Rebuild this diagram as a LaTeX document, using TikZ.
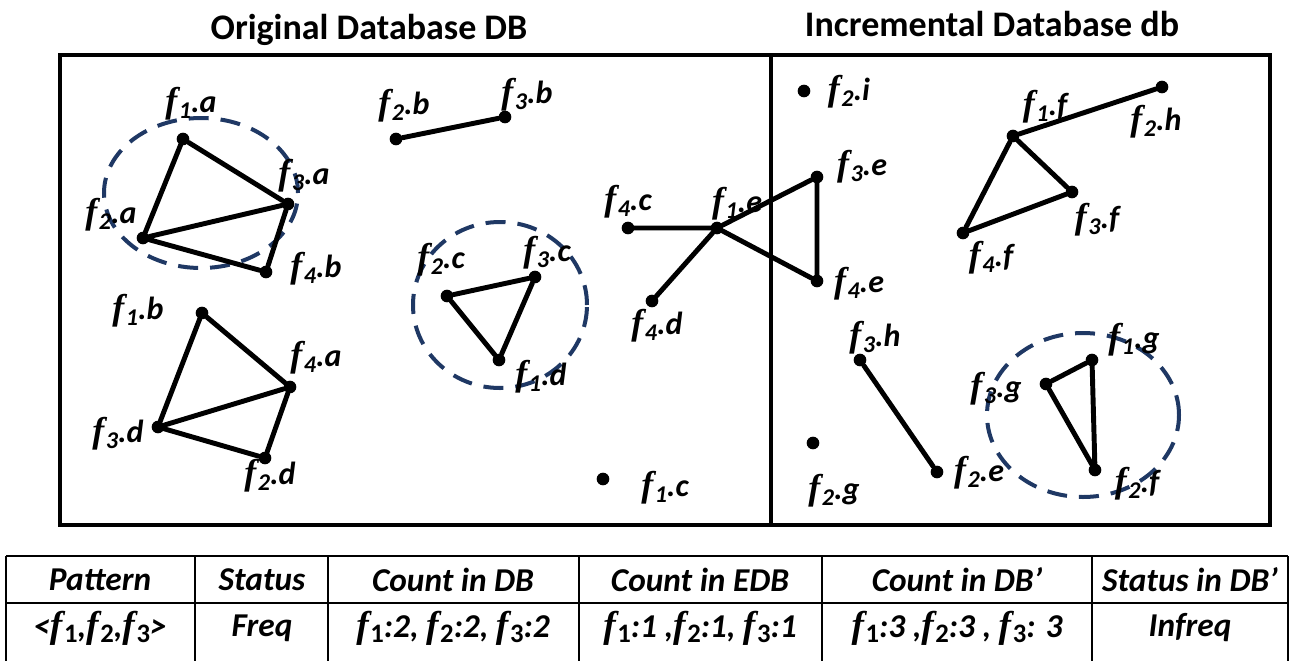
\documentclass[tikz,border=0pt]{standalone}
\usepackage{fontspec}
\setmainfont{Carlito}
\newfontfamily\ffam{Liberation Serif}
\usetikzlibrary{shapes.geometric}
\definecolor{navy}{HTML}{1F3864}
\newcommand\ff{\scalebox{1.12}{\ffam\bfseries\itshape f}}
\newcommand\lb[2]{\ff\kern0.05em\raisebox{-0.35ex}{\fontsize{18}{18}\selectfont #1}.#2}
\newcommand\tf[1]{\ff\kern0.05em\raisebox{-0.35ex}{\fontsize{20}{20}\selectfont\upshape #1}}
\begin{document}
\begin{tikzpicture}[x=0.75pt,y=-0.75pt,
  v/.style={circle,fill=black,inner sep=0pt,minimum size=9.5pt},
  ed/.style={line width=3.7pt,line cap=round},
  grp/.style={draw=navy,ellipse,line width=3pt,dash pattern=on 15pt off 9pt,inner sep=0pt},
  lbl/.style={font=\fontsize{24}{24}\selectfont\bfseries\itshape,inner sep=0pt},
  ttl/.style={font=\fontsize{27}{27}\selectfont\bfseries,inner sep=0pt},
  th/.style={font=\fontsize{25}{25}\selectfont\bfseries\itshape,inner sep=0pt},
  frame/.style={line width=3pt},
  tline/.style={line width=1.3pt}]
\useasboundingbox (0,0) rectangle (1297,661);
% titles
\node[ttl] (t1) at (369,30) {Original Database DB};
\node[ttl] (t2) at (992,24) {Incremental Database db};
% frame
\draw[frame] (60,55) rectangle (1270,525);
\coordinate (dtop) at (771,55);
\coordinate (dbot) at (771,525);
\draw[frame] (dtop) -- (dbot);
% groups
\node[grp,minimum width=145.5pt,minimum height=112.5pt] (g1) at (201,193) {};
\node[grp,minimum width=130.5pt,minimum height=124.5pt] (g2) at (500,305) {};
\node[grp,minimum width=144pt,minimum height=123pt] (g3) at (1083,415) {};
% vertices left
\node[v] (f1a) at (183,139) {};
\node[v] (f2a) at (143,238) {};
\node[v] (f3a) at (288,204) {};
\node[v] (f4b) at (266,272) {};
\node[v] (f1b) at (202,313) {};
\node[v] (f4a) at (290,387) {};
\node[v] (f3d) at (158,427) {};
\node[v] (f2d) at (265,458) {};
\node[v] (f2b) at (396,139) {};
\node[v] (f3b) at (505,117) {};
\node[v] (f2c) at (447,296) {};
\node[v] (f3c) at (535,277) {};
\node[v] (f1d) at (499,360) {};
\node[v] (f4c) at (628,228) {};
\node[v] (f1e) at (717,228) {};
\node[v] (f4d) at (652,301) {};
\node[v] (f1c) at (603,479) {};
\node[v] (f3e) at (817,177) {};
\node[v] (f4e) at (817,281) {};
% vertices right
\node[v] (f2i) at (804,91) {};
\node[v] (f1f) at (1013,136) {};
\node[v] (f2h) at (1162,87) {};
\node[v] (f3f) at (1072,192) {};
\node[v] (f4f) at (963,233) {};
\node[v] (f3h) at (860,360) {};
\node[v] (f2e) at (937,472) {};
\node[v] (f2g) at (813,443) {};
\node[v] (f3g) at (1046,384) {};
\node[v] (f1g) at (1092,360) {};
\node[v] (f2f) at (1095,470) {};
% edges
\draw[ed] (f1a) -- (f3a) (f1a) -- (f2a) (f2a) -- (f3a) (f2a) -- (f4b) (f4b) -- (f3a);
\draw[ed] (f1b) -- (f4a) (f1b) -- (f3d) (f3d) -- (f4a) (f3d) -- (f2d) (f2d) -- (f4a);
\draw[ed] (f2b) -- (f3b);
\draw[ed] (f2c) -- (f3c) (f3c) -- (f1d) (f1d) -- (f2c);
\draw[ed] (f4c) -- (f1e) (f1e) -- (f4d) (f1e) -- (f3e) (f1e) -- (f4e) (f3e) -- (f4e);
\draw[ed] (f1f) -- (f2h) (f1f) -- (f3f) (f1f) -- (f4f) (f4f) -- (f3f);
\draw[ed] (f3h) -- (f2e);
\draw[ed] (f3g) -- (f1g) (f3g) -- (f2f) (f1g) -- (f2f);
% labels
\node[lbl] (lf1a) at (191,104) {\lb{1}{a}};
\node[lbl] (lf3a) at (304,176) {\lb{3}{a}};
\node[lbl] (lf2a) at (111,215) {\lb{2}{a}};
\node[lbl] (lf4b) at (316,269) {\lb{4}{b}};
\node[lbl] (lf1b) at (138,311) {\lb{1}{b}};
\node[lbl] (lf4a) at (316,358) {\lb{4}{a}};
\node[lbl] (lf3d) at (118,434) {\lb{3}{d}};
\node[lbl] (lf2d) at (270,476) {\lb{2}{d}};
\node[lbl] (lf2b) at (404,106) {\lb{2}{b}};
\node[lbl] (lf3b) at (527,95) {\lb{3}{b}};
\node[lbl] (lf2c) at (441,260) {\lb{2}{c}};
\node[lbl] (lf3c) at (547,253) {\lb{3}{c}};
\node[lbl] (lf1d) at (541,377) {\lb{1}{d}};
\node[lbl] (lf4c) at (628,202) {\lb{4}{c}};
\node[lbl] (lf1e) at (737,204) {\lb{1}{e}};
\node[lbl] (lf4d) at (657,326) {\lb{4}{d}};
\node[lbl] (lf1c) at (665,488) {\lb{1}{c}};
\node[lbl] (lf3e) at (862,167) {\lb{3}{e}};
\node[lbl] (lf4e) at (859,284) {\lb{4}{e}};
\node[lbl] (lf2i) at (849,92) {\lb{2}{i}};
\node[lbl] (lf1f) at (1045,107) {\lb{1}{f}};
\node[lbl] (lf2h) at (1156,122) {\lb{2}{h}};
\node[lbl] (lf3f) at (1097,220) {\lb{3}{f}};
\node[lbl] (lf4f) at (991,258) {\lb{4}{f}};
\node[lbl] (lf3h) at (875,338) {\lb{3}{h}};
\node[lbl] (lf2e) at (979,473) {\lb{2}{e}};
\node[lbl] (lf2g) at (834,491) {\lb{2}{g}};
\node[lbl] (lf3g) at (996,389) {\lb{3}{g}};
\node[lbl] (lf1g) at (1134,340) {\lb{1}{g}};
\node[lbl] (lf2f) at (1137,484) {\lb{2}{f}};
% table
\draw[tline] (6,556) -- (1288,556);
\draw[tline] (6,603) -- (1288,603);
\foreach \x in {6,195,328,579,822,1092,1288} \draw[tline] (\x,556) -- (\x,661);
\node[th] (h1) at (100,580) {Pattern};
\node[th] (h2) at (262,580) {Status};
\node[th] (h3) at (453,580) {Count in DB};
\node[th] (h4) at (700,580) {Count in EDB};
\node[th] (h5) at (957,580) {Count in DB’};
\node[th] (h6) at (1190,580) {Status in DB’};
\node[th] (r1) at (100,628) {<\tf{1},\tf{2},\tf{3}>};
\node[th] (r2) at (262,628) {Freq};
\node[th] (r3) at (453,628) {\tf{1}:2, \tf{2}:2, \tf{3}:2};
\node[th] (r4) at (700,628) {\tf{1}:1 ,\tf{2}:1, \tf{3}:1};
\node[th] (r5) at (957,628) {\tf{1}:3 ,\tf{2}:3 , \tf{3}: 3};
\node[th] (r6) at (1190,628) {Infreq};
\end{tikzpicture}
\end{document}
